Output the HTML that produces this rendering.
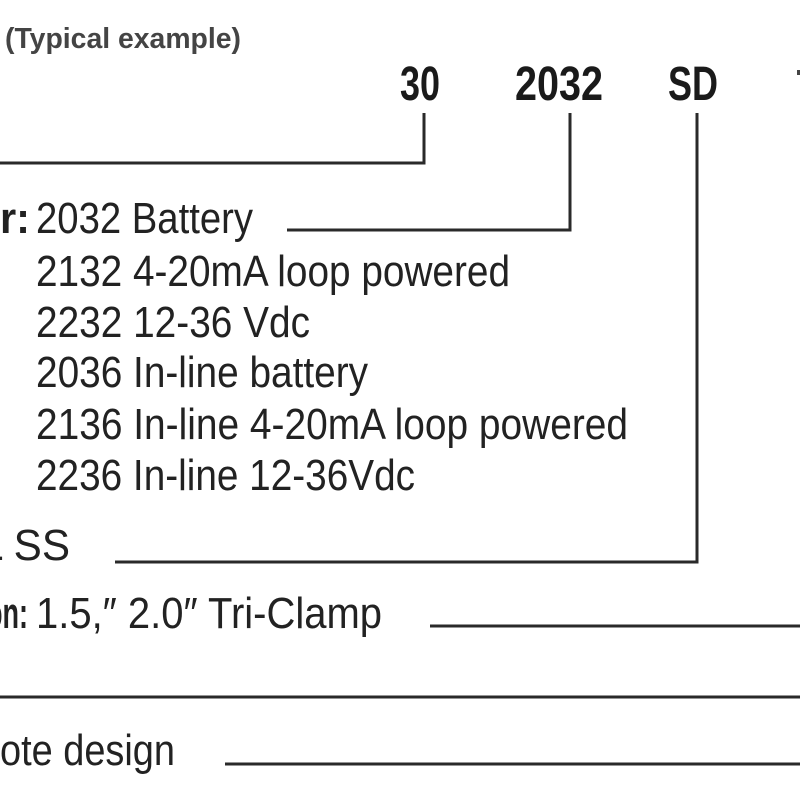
<!DOCTYPE html>
<html><head><style>html,body{margin:0;padding:0;background:#fff;width:800px;height:800px;overflow:hidden}</style></head>
<body>
<svg width="800" height="800" viewBox="0 0 800 800" xmlns="http://www.w3.org/2000/svg" font-family="Liberation Sans, sans-serif">
<text x="5" y="48" font-size="29" font-weight="bold" fill="#444" textLength="236" lengthAdjust="spacingAndGlyphs">(Typical example)</text>
<g font-weight="bold" font-size="48" fill="#1a1a1a">
<text x="400" y="100" textLength="40" lengthAdjust="spacingAndGlyphs">30</text>
<text x="515" y="100" textLength="88" lengthAdjust="spacingAndGlyphs">2032</text>
<text x="668" y="100" textLength="50" lengthAdjust="spacingAndGlyphs">SD</text>
</g>
<rect x="797" y="70" width="3" height="5" fill="#444"/>
<g stroke="#2a2a2a" stroke-width="3" fill="none">
<polyline points="0,163 424,163 424,113"/>
<polyline points="287,230 570,230 570,113"/>
<polyline points="115,562 697,562 697,113"/>
<line x1="430" y1="626" x2="800" y2="626"/>
<line x1="0" y1="697" x2="800" y2="697"/>
<line x1="225" y1="764" x2="800" y2="764"/>
</g>
<g font-size="44" fill="#222">
<text x="0" y="233" font-weight="bold" textLength="30" lengthAdjust="spacingAndGlyphs">r:</text>
<text x="36" y="233" textLength="217" lengthAdjust="spacingAndGlyphs">2032 Battery</text>
<text x="36" y="286" textLength="474" lengthAdjust="spacingAndGlyphs">2132 4-20mA loop powered</text>
<text x="36" y="337" textLength="274" lengthAdjust="spacingAndGlyphs">2232 12-36 Vdc</text>
<text x="36" y="387" textLength="332" lengthAdjust="spacingAndGlyphs">2036 In-line battery</text>
<text x="36" y="439" textLength="592" lengthAdjust="spacingAndGlyphs">2136 In-line 4-20mA loop powered</text>
<text x="36" y="490" textLength="379" lengthAdjust="spacingAndGlyphs">2236 In-line 12-36Vdc</text>
<text x="-20" y="560" textLength="90" lengthAdjust="spacingAndGlyphs">L SS</text>
<text x="-14" y="628" font-weight="bold" textLength="42" lengthAdjust="spacingAndGlyphs">on:</text>
<text x="36" y="628" textLength="346" lengthAdjust="spacingAndGlyphs">1.5,″ 2.0″ Tri-Clamp</text>
<text x="0" y="765" textLength="175" lengthAdjust="spacingAndGlyphs">ote design</text>
</g>
</svg>
</body></html>
